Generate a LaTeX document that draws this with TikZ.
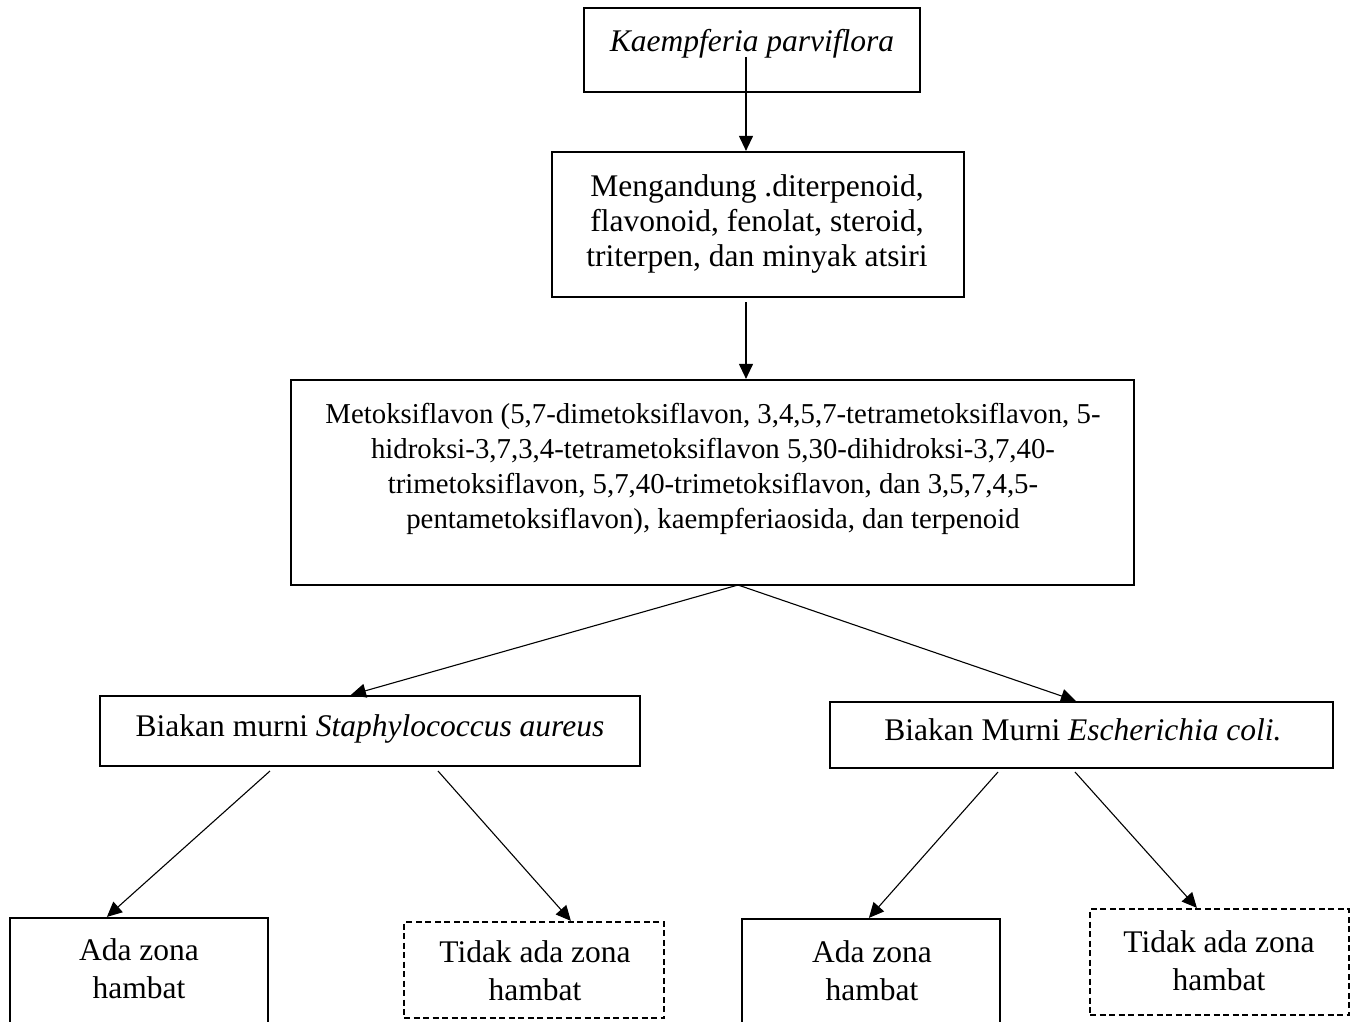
\documentclass[tikz,border=0pt]{standalone}
\usepackage{fontspec}
\setmainfont{Liberation Serif}
\usetikzlibrary{arrows.meta,calc}
\begin{document}
\begin{tikzpicture}[x=1pt,y=-1pt,
  boxnode/.style={draw, line width=2.2pt, inner sep=0pt, minimum width=#1},
  dashbox/.style={boxnode=#1, dash pattern=on 6pt off 3.5pt},
  txt/.style={inner sep=0pt, anchor=base, align=center, font=\fontsize{31.5}{35}\selectfont},
  txtm/.style={inner sep=0pt, anchor=base, align=center, font=\fontsize{28.8}{35}\selectfont},
  txtb/.style={inner sep=0pt, anchor=base, align=center, font=\fontsize{31.5}{38}\selectfont},
  arr/.style={line width=1.1pt, -{Triangle[length=15pt,width=14pt]}}]
\clip (0,0) rectangle (1358,1022);
\fill[white] (0,0) rectangle (1358,1022);
% boxes
\node[boxnode=336pt, minimum height=84pt] (kp) at (752,50) {};
\node[boxnode=412pt, minimum height=145pt] (mg) at (758,224.5) {};
\node[boxnode=843pt, minimum height=205pt] (mt) at (712.5,482.5) {};
\node[boxnode=540pt, minimum height=70pt] (sa) at (370,731) {};
\node[boxnode=503pt, minimum height=66pt] (ec) at (1081.5,735) {};
\node[boxnode=258pt, minimum height=142pt] (z1) at (139,989) {};
\node[dashbox=260pt, minimum height=96pt] (n1) at (534,970) {};
\node[boxnode=258pt, minimum height=142pt] (z2) at (871,990) {};
\node[dashbox=259pt, minimum height=106pt] (n2) at (1219.5,962) {};
% texts (anchor = baseline of last line)
\node[txt] (t1) at (752,52) {\itshape Kaempferia parviflora};
\node[txt] (t2) at (757,266) {Mengandung .diterpenoid,\\flavonoid, fenolat, steroid,\\triterpen, dan minyak atsiri};
\node[txtm] (t3) at (713,528) {Metoksiflavon (5,7-dimetoksiflavon, 3,4,5,7-tetrametoksiflavon, 5-\\hidroksi-3,7,3,4-tetrametoksiflavon 5,30-dihidroksi-3,7,40-\\trimetoksiflavon, 5,7,40-trimetoksiflavon, dan 3,5,7,4,5-\\pentametoksiflavon), kaempferiaosida, dan terpenoid};
\node[txt] (t4) at (370,736) {Biakan murni \textit{Staphylococcus aureus}};
\node[txt] (t5) at (1083,740) {Biakan Murni \textit{Escherichia coli.}};
\node[txtb] (t6) at (139,998) {Ada zona\\hambat};
\node[txtb] (t7) at (535,1000) {Tidak ada zona\\hambat};
\node[txtb] (t8) at (872,1000) {Ada zona\\hambat};
\node[txtb] (t9) at (1219,990) {Tidak ada zona\\hambat};
% connector start points
\coordinate (c1) at (746,57);
\coordinate (c2) at (746,302);
\coordinate (c3) at (738,585);
\coordinate (c5) at (270,771);
\coordinate (c6) at (438,771);
\coordinate (c7) at (998,772);
\coordinate (c8) at (1075,772);
% connectors
\draw[arr] (c1) -- (c1 |- mg.north);
\draw[arr] (c2) -- (c2 |- mt.north);
\draw[arr] (c3) -- ($(sa.north west)+(252,0)$);
\draw[arr] (c3) -- ($(ec.north west)+(247,0)$);
\draw[arr] (c5) -- ($(z1.north west)+(98,0)$);
\draw[arr] (c6) -- ($(n1.north west)+(168,0)$);
\draw[arr] (c7) -- ($(z2.north west)+(128,0)$);
\draw[arr] (c8) -- ($(n2.north west)+(108,0)$);
\end{tikzpicture}
\end{document}
